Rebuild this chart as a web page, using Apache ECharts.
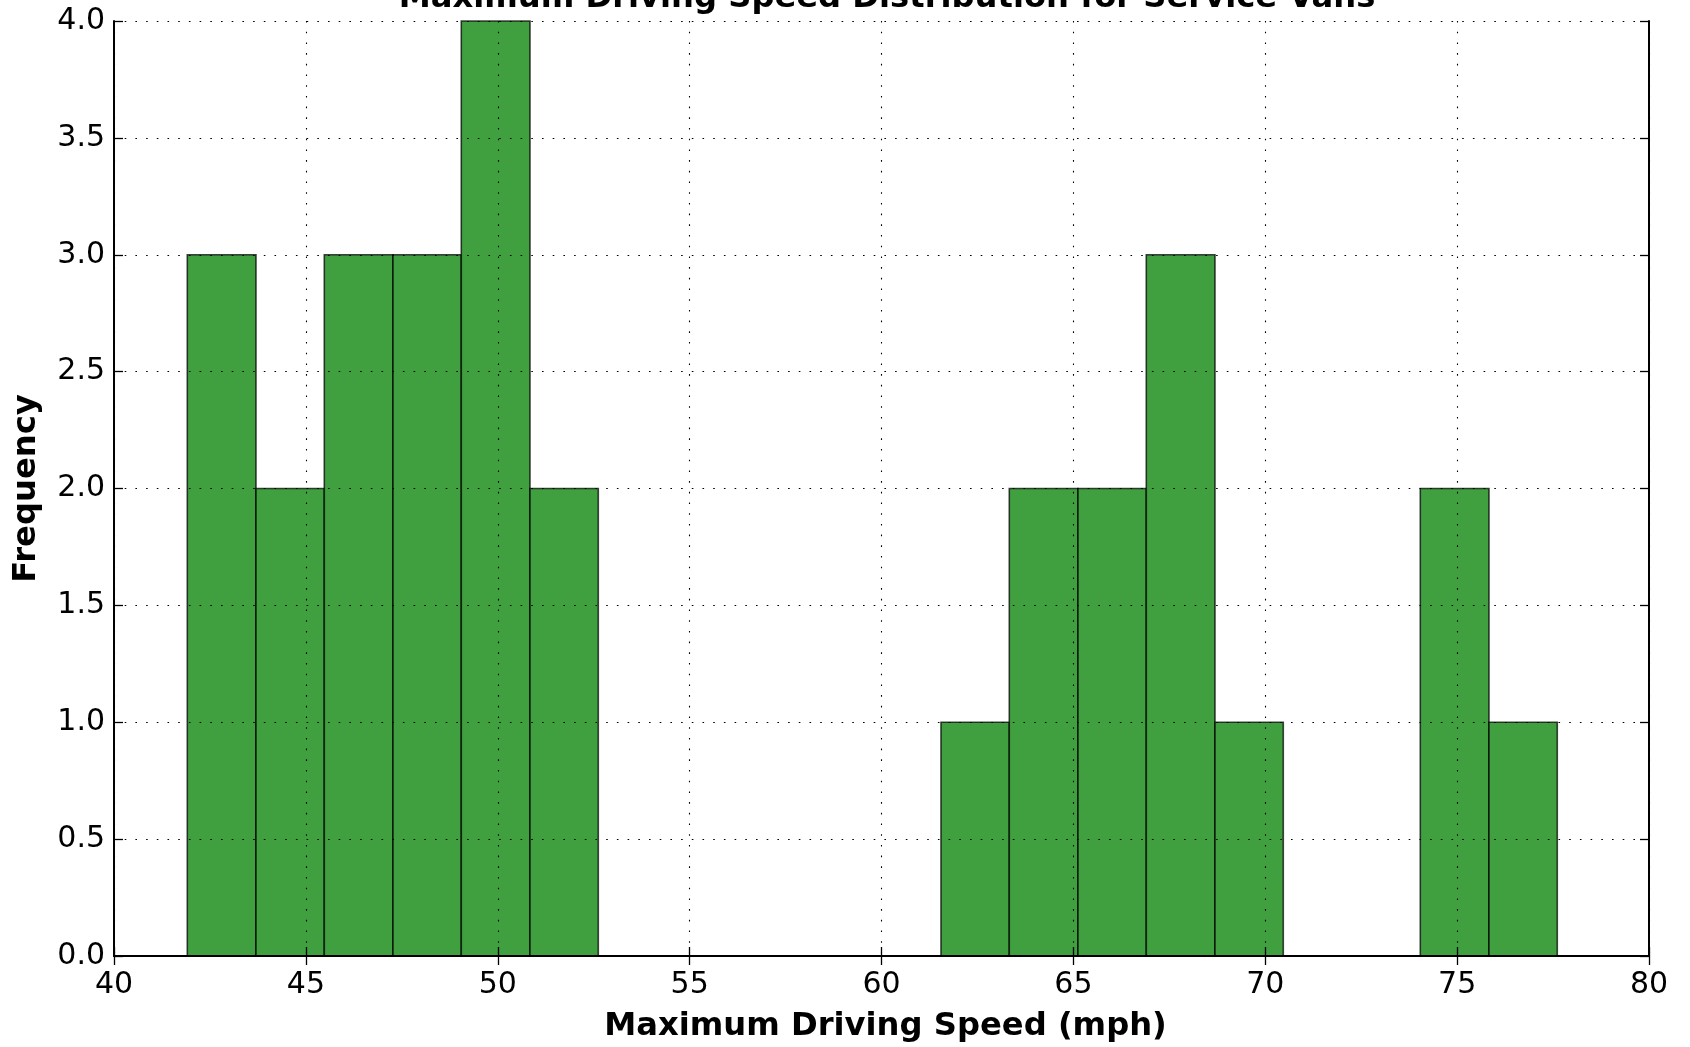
<!DOCTYPE html>
<html>
<head>
<meta charset="utf-8">
<script src="https://cdn.jsdelivr.net/npm/echarts@6/dist/echarts.min.js"></script>
<style>
html,body{margin:0;padding:0;background:#fff;}
#chart{width:1690px;height:1047px;}
</style>
</head>
<body>
<div id="chart"></div>
<script>
// Histogram bins
const binStarts = [41.91, 43.70, 45.48, 47.27, 49.05, 50.84, 52.62, 54.41, 56.19, 57.98, 59.76, 61.55, 63.33, 65.12, 66.90, 68.69, 70.47, 72.26, 74.04, 75.83];
const binEnds   = [43.70, 45.48, 47.27, 49.05, 50.84, 52.62, 54.41, 56.19, 57.98, 59.76, 61.55, 63.33, 65.12, 66.90, 68.69, 70.47, 72.26, 74.04, 75.83, 77.61];
const counts    = [3, 2, 3, 3, 4, 2, 0, 0, 0, 0, 0, 1, 2, 2, 3, 1, 0, 0, 2, 1];

const titleText = 'Maximum Driving Speed Distribution for Service Vans';
const xName = 'Maximum Driving Speed (mph)';
const yName = 'Frequency';

const FONT = 'DejaVu Sans';
const data = [];
for (let i = 0; i < counts.length; i++) {
  if (counts[i] > 0) data.push([binStarts[i], binEnds[i], counts[i]]);
}

const gridLine = { show: true, lineStyle: { color: '#000', width: 1.1, type: [1.6, 9.1] } };
const tick = { show: true, inside: true, length: 9, lineStyle: { color: '#000', width: 1.3 } };
const axLine = { show: true, lineStyle: { color: '#000', width: 2 } };

const chart = echarts.init(document.getElementById('chart'));
chart.setOption({
  animation: false,
  backgroundColor: '#fff',
  title: {
    text: titleText,
    left: 882,
    textAlign: 'center',
    top: -22,
    textStyle: { fontFamily: FONT, fontSize: 32.2, fontWeight: 'bold', color: '#000', lineHeight: 32 }
  },
  grid: { left: 114, right: 41, top: 21, bottom: 91, containLabel: false, outerBoundsMode: 'none' },
  xAxis: [
    {
      type: 'value', min: 40, max: 80, interval: 5, position: 'bottom', z: 5,
      name: xName, nameLocation: 'middle', nameGap: 55,
      nameTextStyle: { fontFamily: FONT, fontSize: 32.2, fontWeight: 'bold', color: '#000', lineHeight: 32, padding: [0, 0, 0, 8] },
      axisLine: axLine, axisTick: tick, splitLine: { show: false },
      axisLabel: { fontFamily: FONT, fontSize: 30, color: '#000', margin: 14, lineHeight: 30 }
    },
    {
      type: 'value', min: 40, max: 80, interval: 5, position: 'top', z: 5,
      axisLine: axLine, axisTick: tick, splitLine: gridLine, axisLabel: { show: false }
    }
  ],
  yAxis: [
    {
      type: 'value', min: 0, max: 4, interval: 0.5, position: 'left', z: 5,
      name: yName, nameLocation: 'middle', nameGap: 71, nameRotate: 90,
      nameTextStyle: { fontFamily: FONT, fontSize: 32.2, fontWeight: 'bold', color: '#000', lineHeight: 32 },
      axisLine: axLine, axisTick: tick, splitLine: { show: false },
      axisLabel: { fontFamily: FONT, fontSize: 30, color: '#000', margin: 9, formatter: v => v.toFixed(1) }
    },
    {
      type: 'value', min: 0, max: 4, interval: 0.5, position: 'right', z: 5,
      axisLine: axLine, axisTick: tick, splitLine: gridLine, axisLabel: { show: false }
    }
  ],
  series: [{
    type: 'custom',
    xAxisIndex: 0, yAxisIndex: 0,
    z: 2,
    data: data,
    renderItem: function (params, api) {
      const x0 = api.value(0), x1 = api.value(1), c = api.value(2);
      const p0 = api.coord([x0, c]);
      const p1 = api.coord([x1, 0]);
      return {
        type: 'rect',
        shape: { x: p0[0], y: p0[1], width: p1[0] - p0[0], height: p1[1] - p0[1] },
        style: { fill: '#40a040', stroke: 'rgba(0,0,0,0.72)', lineWidth: 1.6 }
      };
    }
  }]
});
</script>
</body>
</html>
